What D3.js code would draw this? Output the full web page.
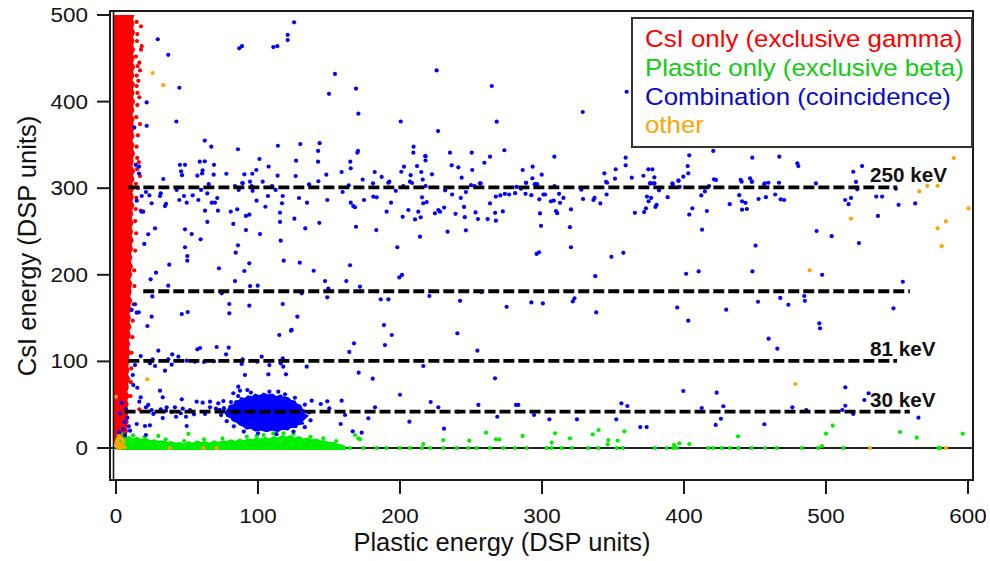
<!DOCTYPE html>
<html><head><meta charset="utf-8">
<script src="https://cdn.jsdelivr.net/npm/d3@7"></script>
<style>body{margin:0;background:#fff}svg{display:block}text{font-family:"Liberation Sans",Arial,Helvetica,sans-serif}</style>
</head><body><svg id="c" width="990" height="561"></svg>
<script>
// ---------------- data ----------------
const xTicks=[0,100,200,300,400,500,600];
const yTicks=[0,100,200,300,400,500];
const xTitle="Plastic energy (DSP units)";
const yTitle="CsI energy (DSP units)";
const legendLabels=["CsI only (exclusive gamma)","Plastic only (exclusive beta)","Combination (coincidence)","other"];
// reference energy lines: CsI level, plastic extent, label
const refLines=[
 {csi:301,from:8.7,to:550,label:"250 keV"},
 {csi:181,from:19.2,to:559,label:""},
 {csi:100.5,from:8.7,to:550,label:"81 keV"},
 {csi:42,from:6,to:559,label:"30 keV"}];
// dense CsI-only band: right edge (plastic, CsI)
const csiOnlyEdge=[[8,5],[9,10],[7.5,15],[8.5,20],[7.5,25],[9,30],[8,35],[8.5,40],[7.5,45],[9,50],[8,55],[9.5,60],[8,65],[9,70],[8.5,75],[10,80],[8.5,85],[9.5,90],[8.5,95],[10,100],[9,105],[10.5,110],[9,115],[10,120],[9,125],[10.5,130],[9.5,135],[11,140],[9.5,145],[10.5,150],[9.5,155],[11,160],[10,165],[11.5,170],[10,175],[11,180],[10.5,185],[11.5,190],[10,195],[11.5,200],[10.5,205],[12,210],[10.5,215],[11.5,220],[10.5,225],[12,230],[11,235],[12.5,240],[11,245],[12,250],[11,255],[12.5,260],[11,265],[12,270],[11.5,275],[13,280],[11.5,285],[12.5,290],[11.5,295],[13,300],[11.5,305],[13,310],[12,315],[13.5,320],[11.5,325],[12.5,330],[12,335],[13.5,340],[12,345],[13,350],[11.5,355],[13,360],[12,365],[13.5,370],[12,375],[13,380],[11.5,385],[13,390],[12,395],[13.5,400],[12,405],[13,410],[12,415],[13.5,420],[11.5,425],[13,430],[12,435],[13.5,440],[12,445],[13,450],[12,455],[13.5,460],[12,465],[13,470],[12,475],[13.5,480],[12,485],[13,490],[12,495],[13,500]];
// dense plastic-only strip: top edge (plastic, CsI)
const plasticOnlyEdge=[[0,13],[3,14],[6,12],[9,14],[12,11],[15,13],[18,10],[21,12],[24,9],[27,10],[30,8],[33,9],[36,7],[39,8],[42,6],[45,7],[48,5],[51,8],[54,6],[57,9],[60,7],[63,8],[66,6],[69,9],[72,7],[75,9],[78,8],[81,10],[84,8],[87,11],[90,9],[93,11],[96,10],[99,12],[102,11],[105,13],[108,11],[111,14],[114,12],[117,15],[120,13],[123,15],[126,12],[129,14],[132,11],[135,12],[138,10],[141,11],[144,9],[147,9],[150,7],[153,7],[156,5],[159,4],[162,2]];
// dense coincidence cluster outline (plastic, CsI)
const coincidenceCluster=[[77,41],[79,45],[80,49],[83,50],[84,54],[87,55],[88,58],[91,57],[93,60],[96,59],[98,62],[101,60],[104,63],[107,61],[110,62],[113,59],[116,61],[118,58],[121,58],[123,55],[126,54],[127,51],[130,49],[131,45],[133,43],[132,40],[135,37],[133,34],[131,31],[132,28],[128,27],[127,24],[123,24],[121,21],[117,22],[114,19],[110,21],[106,19],[102,21],[98,20],[95,23],[92,22],[90,25],[87,27],[85,30],[82,32],[81,35],[78,37]];
const csiOnlyPoints=[[17.6,487],[18.1,464],[17.6,460],[16.4,445],[16.9,436],[15.7,424],[16.4,405],[16.9,374],[16.9,314],[17.4,274],[16.4,44.7],[15.5,300],[16,330],
[14.5,492],[15,478],[14,452],[15.2,441],[14.6,418],[15,396],[14.2,382],[15.4,361],[14.5,348],[14.8,322],[14,305],[14.3,289],[13.6,262],[14.2,248],[13.5,228],[12.8,205],[13,187],[12.4,166],[11.8,147],[11.5,128],[11,110],[10.8,92],[10.4,76],[10.2,60],[14.8,470],[14.6,430],[15.1,410],[14.9,335],[13.9,276]];
const plasticOnlyPoints=[[164.8,0],[174.2,0],[183.6,0],[190.6,0],[200,0],[207,0],[215.3,0],[221.1,0],[230.5,0],[239.9,0],[248.1,0],[254,0],[263.4,0],[272.7,0],[281,0],[289.2,0],[303.3,0],[306.8,0],[313.9,0],[320.9,0],[332.6,0],[339.7,0],[352.6,0],[356.8,0],[379.6,0],[387.8,0],[392.5,0],[394.9,0],[417.1,0],[420.7,0],[426.5,0],[432.4,0],[438.3,0],[447.7,0],[457,0],[465.3,0],[482.9,0],[494.6,0],[512.2,0],[579.1,0],[580.3,0],
[168.3,15],[171.8,10],[230.5,9.2],[260.6,17.7],[267.6,10],[269.9,10],[286.4,13.9],[248.8,8.5],[216.4,4.6],[309.2,17],[306.8,6.2],[319.7,11.2],[335.7,15.8],[339.9,20.8],[346.7,9.2],[353.3,8.5],[346.3,4.2],[358,19.2],[393,3.5],[396.7,5.4],[403.7,4.6],[438,13.5],[500,16.5],[504.7,25.8],[552.1,18.5],[563.9,11.9],[596.3,16.5],[497.2,2.3],[170.6,11.2],[50.9,16.2],[99.1,14],[110.8,17],[29.8,14],
[5,15.5],[12,14.5],[20,13],[35,10],[48,8],[62,10],[75,11],[92,13],[104,15],[118,17],[125,16.5],[137,13],[146,11],[155,8]];
const coincidencePoints=[[29.4,472],[36.8,454],[44.6,416],[21.6,399],[21.6,372],[42.5,377],[12.9,370],[86.8,461.5],[88.7,464],[110.8,463],[113.6,464],[120.9,471],[120.9,477],[125.4,491.5],[154.2,432],[150,409],[169,415],[170.7,386],[225.8,436],[226.8,366],[200.5,377],
[264.6,418],[268.1,376.8],[328.7,388],[359.6,411.4],
[62.5,355],[67.1,348],[85.9,345],[114,349],[129.8,351],[143.4,352],[142.3,343],[170.4,343],[170,341],[209.6,348],[209.4,341],[217.8,337],[218,332],[45,327],[48.6,327],[45.8,319.5],[46.5,315],[59,330.6],[62.5,331],[61,320.6],[60.6,317],[57.3,314.5],[69,327],[68.8,315.6],[77.7,316.7],[101,333.7],[107.5,325],[98.8,321],[96,316.7],[90.4,316],[113.8,314.5],[126.8,331.8],[126.5,314],[142.3,330.6],[148.1,315.6],[158.9,318.7],[165,330.6],[165.3,323],[182.2,318.7],[187.1,313],[192.5,307.5],[173.7,310],[202.8,324.8],[200.9,319],[207.5,315],[215,318.7],[212,325.6],[218,336.8],[222.5,316],[216,310],[33.3,310.6],[94.4,307.5],[89,306],[103.3,307.5],[207,307.5],[208.5,306],[181,305.6],[136,304.5],[13.9,327],[16.2,325],[16.2,317],
[235.2,341],[236.4,326.4],[241.1,324.1],[243.4,312.1],[250.5,341],[250.9,321],[259.4,329.4],[263.4,336.4],[273.5,343.8],[256.3,305.6],[286.4,321],[293.4,324.8],[293.2,311.4],[299.8,315.6],[288.7,306.3],[295.8,304.8],[308.7,336.4],[343.9,317.2],[345.1,307.2],[351.9,321.8],[351.4,311],[358.9,335.2],[358.9,326.4],[363.2,312.1],[371.4,314.4],[374.9,321.8],[377.7,321.8],[379.1,312.6],[376.1,305.6],[378.4,305.6],[391.8,305.6],[396,308.7],[399.5,313.3],[402.6,325.6],[403,317.2],[403.7,338],[420.6,343],[421.1,310.3],[439.9,309.5],[440.6,307.5],[446.5,311.4],[448.1,335.2],[447.7,307.5],[457,305.6],[459.4,306.3],[467.1,336.4],
[479.8,328.8],[480.5,325.6],[519.2,319],[525.4,325.6],[521.1,307.2],[522,298.7],
[65.3,304.8],[83.8,302.5],[89.2,305.6],[95.5,302.5],[109.9,302.5],[135.9,304],[142.5,308],[163.9,303.3],[191.8,306.3],[202.3,302.5],[218,302.5],
[14.6,285.6],[18.1,291],[21.1,295.6],[23.5,291.8],[18.1,272.9],[19.2,272.9],[25.1,282.6],[31.5,294],[31,291],[35.2,281.8],[34.5,279.4],[42.7,298],[44.6,286.4],[47.9,291],[49.8,283.3],[54,291.8],[58,286.4],[59.9,298],[62.7,274],[64.3,261],[64.3,294],[67.4,283.3],[69.7,283.3],[71.3,288.7],[71.8,274],[80.8,273],[82.6,258.7],[85.4,275.6],[86.4,298],[91.5,268],[93.9,269.4],[91.5,251.7],[99,285.6],[101.4,247],[96.2,297],[107,291],[105.2,278.6],[112.4,298],[115.5,271.7],[115.5,261],[116.9,282.6],[117.4,291],[116,239.4],[125.6,264.8],[128.9,288.7],[134.5,283.3],[133.3,253.6],[143.2,260],[148.8,286.4],
[159.6,295.6],[165.3,283.3],[167.1,279.4],[168.3,278],[169,255.5],[174.6,286.4],[181.2,290.2],[183.6,289.5],[183.3,251.7],[190.6,272.9],[193.7,283.3],[197,297],[201.9,267],[205.9,274.8],[210.6,264],[212.9,272.9],[214.6,266.4],[214.1,244],[215.5,289.5],[216.4,282.6],[218.8,284],[224.6,271],[227,274.8],[198.1,231.8],[199.5,197],[201.4,199.8],
[27.5,253.7],[22.7,246.8],[19.9,235.6],[48.6,252.5],[53.3,247],[59.6,241],[48.6,231.8],[50.2,221.7],[50.2,216.3],[37.5,211.7],[28.2,202.4],[24.4,194.8],[36.8,187.4],[72.5,207.5],[83.8,192.8],[84.3,225.5],[85.9,234],[93.9,213.3],[90.4,204.4],[94.4,187],[99.8,187.4],[118.1,216.3],[129.4,214],[139.2,204.7],[147.2,192.8],[149.5,184],[162.2,192.8],[164.8,211],[171.8,186.3],
[25.6,175],[13.4,166],[11,159.4],[14.6,156.3],[16,156.7],[25.1,151.6],[22.1,140.9],[46.3,154.7],[50.5,157],[79.8,166.3],[79.8,155.5],[93.9,164.3],[117.4,166.3],[127.7,151.6],[123.7,136.3],[148.8,174],[186.4,171.7],[191.8,171.7],[188.7,142],[220.7,175.5],[130.8,178.6],[74.4,178.6],
[231.8,297.6],[236.7,292.7],[242.8,288.8],[246.4,295.5],[250,303.5],[256.8,305.5],[252.5,302.3],[231.1,277.6],[228.2,272.9],[239.1,270.4],[245.1,278.4],[245.6,266.5],[233.5,249.8],[246.4,251.4],[253.2,272],[254.9,264.4],[261.7,264.4],[263.4,282.4],[267,271.6],[267.5,262.5],[267.5,290.3],[272.4,273.2],[270.7,291.6],[273.8,293.5],[276.8,292.7],[281.1,294.3],[282.1,301.5],[285.2,299.5],[288.9,306.3],[288.4,293.5],[292.5,292],[294.9,304.7],[296.6,304.7],[298.1,287.2],[298.6,270.9],[299.3,256.5],[301,292.7],[302.2,292.7],[306.3,284.8],[308.3,285.6],[308.8,302.3],[312,293.5],[312.7,283.1],[315.1,288.8],[309.8,273.7],[310.7,271.2],[319.7,255],[320.4,275.6],[320.4,231.8],[296.2,224.2],[297.9,225.9],[327.7,298.3],[328.9,287.5],[336.2,286.4],[337,288.8],[341.1,282.4],[345.5,292.7],[345.9,306.3],[337.5,198.4],[348.9,220.7],[357.3,225.4],[365.4,271.6],[371.9,272.4],[373.2,276.8],[373.9,290.3],[375.1,284.8],[376.8,288.8],[376.3,305.5],[379.2,305.5],[379.9,278.4],[380.7,280.8],[382.4,297.6],[388.5,289.6],[392.1,304.7],[396.2,308.7],[397,301.5],[403.7,269.6],[405.9,276.8],[412.7,252.1],[412.2,291.6],[414.7,296.3],[416.1,273.7],[417.6,302.3],[422.5,309.5],[401.5,201.2],[410.3,203.9],[395.2,162.1],[403,147],[429.7,159.7],[432.2,281.6],[438.9,291.9],[440.9,284.8],[443.3,283.1],[440.9,275.2],[444.3,276],[447.9,307.5],[452.5,287.5],[457.7,289.6],[456.4,304.7],[464.2,292.7],[466.9,306.3],[468.1,287.2],[470.5,286.4],[450.4,233.8],[448.2,203.9],[452.1,168.9],[467.8,173.3],[473.5,165.4],[485.1,170],[492.9,305.5],[493.4,250.6],[504,244.6],[497.3,200],[495.8,138.2],[513.5,286.4],[515.9,281.6],[517.6,288.8],[523.2,236.6],[535.4,290.3],[539.5,290.3],[536.6,268],[547.5,161.3],[551.1,280.8],[549.2,299.5],[554.1,192],[562.8,282.4],[484.7,175.5],[495.3,144],
[242.3,170],[257.3,180],[275.1,163],[292.5,168.1],[300.6,167],[321.7,169.3],[322.9,172.9],[338.2,156.6],
[459.6,126.2],[465.7,114.7],[399.5,65.8],[423,63.9],[412.5,46.2],[427.7,48.2],[422.3,26.6],[426,33.8],[355.9,51.6],[360.1,48.5],[352.3,33.1],[324.6,33.1],[305.2,33.1],[369.2,24.2],[456.6,27.4],[476.3,47],[486.1,43.9],[511.5,43.9],[513.6,48.8],[519.2,39.3],[513.6,70.1],[527,55.4],[530,63.2],[565.1,35],[373.7,24.2],
[115,130.5],[123.2,135.5],[194.2,130.5],[189.4,118.9],[240.4,132.4],[254.5,112.4],[266.9,80.5],[281.7,49.7],[283.3,49.7],[255.2,49.7],[164.3,110.9],[167.6,120.9],[170.9,87],[180.8,80],[200,61.5],[221.6,53.1],[227,47],[231,22.3],[240.8,41.9],[268.5,36.1],[294.4,38.1],[206.6,30.4],[177.7,34.3],[182.4,47],[173,17.7],[166.7,19.2],[158.2,27.7],[158.9,54.6],[161.3,38.1],[148.8,53.9],[150.2,45.8],[144.2,50.8],[137.8,54.6],
[216.4,94.7],[134.3,93.9],[119.7,85.1],[117.8,93.9],[117.4,103.6],[107.3,85.1],[102.6,105.4],[90.8,84.3],[86.1,70.8],[92.5,67],[114.3,65],[119,57.4],[116,97.8],[89.2,102.4],[88.5,97],[108,95.8],[99.5,99.7],
[17.4,106.2],[29.8,112.4],[39.6,108.2],[43.9,105.4],[57.3,114],[59.2,115.5],[70.9,116.6],[79.4,115.8],[77.5,108.2],[25.8,102.4],[23.9,97.8],[27.5,94.7],[36.8,102.4],[39.2,96.2],[34.5,89.3],[49.8,100.8],[55.6,99.7],[62,99.3],[69,100.1],[13.4,95.8],[11.8,84.3],[12.2,72.7],[15,69.6],[17.4,58.5],[16.4,53.5],[31,66.2],[32.9,58.5],[46.3,56.2],[56.8,53.5],[61,52.3],[66.2,53.5],[72,51.6],[75.6,54.3],[82.6,63.2],[87.3,66.2],[21.1,47],[22.7,49.7],[25.1,43.9],[26.3,39.3],[31.5,44.7],[35.7,47],[41.5,47],[47,45.4],[49.3,36.1],[45.6,40.1],[42.3,36.1],[49.8,25.4],[52.1,43.9],[54.9,38.9],[62.7,39.3],[66.2,47],[70.4,45.4],[20.4,25.4],[23.9,26.2],[14.6,27.7],[9.9,20],[6.3,15],[21.1,15],[32.9,34.6],[35.2,43.1],[39.2,41.6],
[3,40],[6,30],[8,35],[5,22],[9,25],[2,18],[7,45],[4,52],
[76,46],[81,53],[86,60],[95,64],[108,65],[119,62],[126,58],[133,50],[136,41],[137,32],[133,24],[125,19],[113,16],[100,17],[90,19],[83,25],[78,31],[74,38],[73,44]];
const otherPoints=[[25.8,433],[33.3,419],[22.1,79.3],[0,59.2],[478.4,73.9],[488.5,205.2],[517.6,264.9],[565.7,296.3],[571.3,302.7],[578.6,302.7],[578.6,253.7],[584.4,261.7],[581.5,233],[600.4,276.8],[590,334.9],[531,0],[584.5,0],[38,0],[61.5,0],[70.9,0],[0.5,2],[2,5],[1,9],[3,12],[4,3],[5,7],[2,14],[0,6],[3,0],[6,1],[1.5,0.5],[4.5,10]];

// ---------------- drawing ----------------
const COL={red:"#ff0000",green:"#00ee00",blue:"#0000ff",orange:"#ffa500"};
const TXT=["#ff0000","#11cc11","#0a0acc","#ffa500"];
const W=990,H=561;
const F={l:110,t:11,r:973,b:480};
const svg=d3.select("#c");
svg.append("rect").attr("width",W).attr("height",H).attr("fill","#fff");
const x=d3.scaleLinear().domain([0,600]).range([116,968]);
const y=d3.scaleLinear().domain([0,500]).range([448,15]);
const R=2.1;

svg.append("clipPath").attr("id","clip").append("rect")
  .attr("x",F.l+1).attr("y",F.t+1).attr("width",F.r-F.l-2).attr("height",F.b-F.t-2);
const g=svg.append("g").attr("clip-path","url(#clip)");

// zero line
g.append("line").attr("x1",F.l).attr("x2",F.r).attr("y1",y(0)).attr("y2",y(0))
  .attr("stroke","#222").attr("stroke-width",2);

// dense CsI-only band
g.append("path").datum(csiOnlyEdge)
  .attr("d",d3.area().y(d=>y(d[1])).x0(x(0)-R).x1(d=>x(d[0])).curve(d3.curveLinear))
  .attr("fill",COL.red);
g.selectAll(".rp").data(csiOnlyPoints).join("circle").attr("cx",d=>x(d[0])).attr("cy",d=>y(d[1])).attr("r",R).attr("fill",COL.red);

// dense plastic-only strip
g.append("path").datum(plasticOnlyEdge)
  .attr("d",d3.area().x(d=>x(d[0])).y0(y(0)+R).y1(d=>y(d[1])).curve(d3.curveLinear))
  .attr("fill",COL.green);
g.selectAll(".gp").data(plasticOnlyPoints).join("circle").attr("cx",d=>x(d[0])).attr("cy",d=>y(d[1])).attr("r",R).attr("fill",COL.green);

// coincidence
g.append("path").datum(coincidenceCluster)
  .attr("d",d3.line().x(d=>x(d[0])).y(d=>y(d[1])).curve(d3.curveLinearClosed))
  .attr("fill",COL.blue).attr("stroke",COL.blue).attr("stroke-width",1.5);
g.selectAll(".bp").data(coincidencePoints).join("circle").attr("cx",d=>x(d[0])).attr("cy",d=>y(d[1])).attr("r",R).attr("fill",COL.blue);

// other
g.selectAll(".op").data(otherPoints).join("circle").attr("cx",d=>x(d[0])).attr("cy",d=>y(d[1])).attr("r",R).attr("fill",COL.orange);

// reference dashed lines
svg.selectAll(".ref").data(refLines).join("line")
  .attr("x1",d=>x(d.from)).attr("x2",d=>x(d.to)).attr("y1",d=>y(d.csi)).attr("y2",d=>y(d.csi))
  .attr("stroke","#000").attr("stroke-width",3.8).attr("stroke-dasharray","11,4");
svg.selectAll(".refl").data(refLines.filter(d=>d.label)).join("text")
  .attr("transform",d=>`translate(${x(531)},${y(d.csi)-5}) scale(1.06,1)`)
  .attr("font-size",19.5).attr("font-weight","bold").attr("fill","#111").text(d=>d.label);

// frame
svg.append("rect").attr("x",F.l).attr("y",F.t).attr("width",F.r-F.l).attr("height",F.b-F.t)
  .attr("fill","none").attr("stroke","#1a1a1a").attr("stroke-width",2);
svg.append("line").attr("x1",F.l+3.5).attr("x2",F.l+3.5).attr("y1",F.t).attr("y2",F.b)
  .attr("stroke","#1a1a1a").attr("stroke-width",1.6);

// y axis ticks + labels
svg.selectAll(".yt").data(yTicks).join("line").attr("x1",97).attr("x2",F.l)
  .attr("y1",d=>y(d)).attr("y2",d=>y(d)).attr("stroke","#1a1a1a").attr("stroke-width",2);
svg.selectAll(".yl").data(yTicks).join("text")
  .attr("transform",d=>`translate(88,${y(d)+7}) scale(1.15,1)`)
  .attr("text-anchor","end").attr("font-size",19.5).attr("fill","#111").text(d=>d);
// x axis ticks + labels
svg.selectAll(".xt").data(xTicks).join("line").attr("y1",F.b).attr("y2",494)
  .attr("x1",d=>x(d)).attr("x2",d=>x(d)).attr("stroke","#1a1a1a").attr("stroke-width",2);
svg.selectAll(".xl").data(xTicks).join("text")
  .attr("transform",d=>`translate(${x(d)},523) scale(1.15,1)`)
  .attr("text-anchor","middle").attr("font-size",19.5).attr("fill","#111").text(d=>d);

// titles
svg.append("text").attr("x",502).attr("y",551).attr("text-anchor","middle")
  .attr("font-size",25.5).attr("fill","#111").text(xTitle);
svg.append("text").attr("transform","translate(36,246) rotate(-90)").attr("text-anchor","middle")
  .attr("font-size",25.5).attr("fill","#111").text(yTitle);

// legend
svg.append("rect").attr("x",632).attr("y",18).attr("width",340).attr("height",129)
  .attr("fill","#fff").attr("stroke","#333").attr("stroke-width",2);
svg.selectAll(".lg").data(legendLabels).join("text")
  .attr("transform",(d,i)=>`translate(645,${47.3+i*28.7}) scale(1.1,1)`)
  .attr("font-size",23.5).attr("fill",(d,i)=>TXT[i]).text(d=>d);
</script></body></html>
